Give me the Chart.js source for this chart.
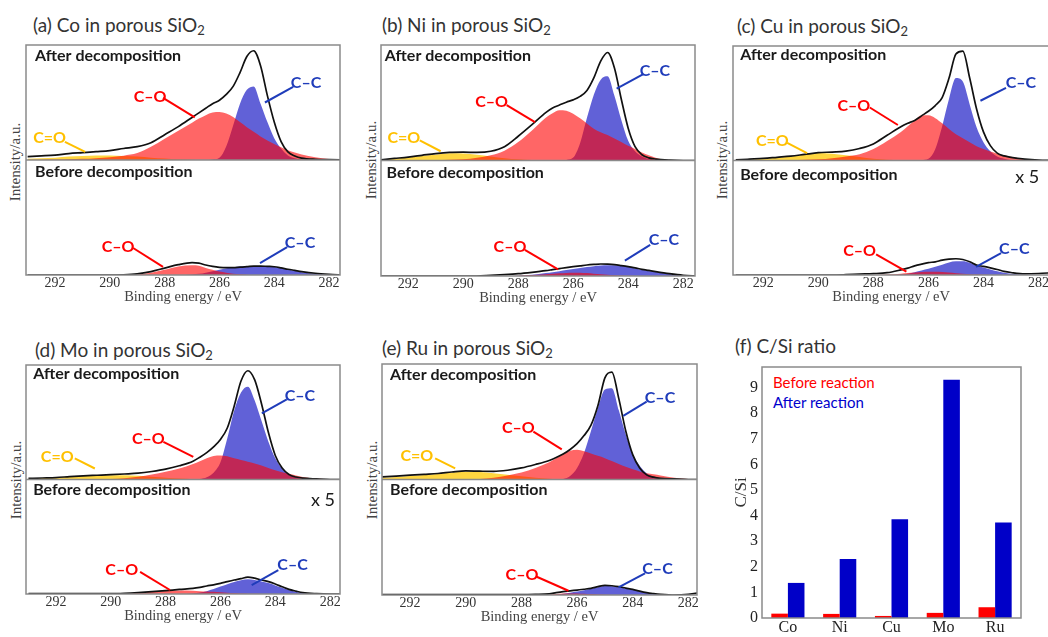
<!DOCTYPE html>
<html>
<head>
<meta charset="utf-8">
<script src="https://cdn.jsdelivr.net/npm/chart.js@4.4.1/dist/chart.umd.min.js"></script>
<style>
  html, body { margin: 0; padding: 0; background: #fff; }
  body { width: 1048px; height: 637px; position: relative; overflow: hidden; font-family: Lato, sans-serif; }
  canvas { position: absolute; }
  .title { position: absolute; font-size: 19px; line-height: 19px; color: #333; white-space: nowrap; }
  .title sub { font-size: 13px; line-height: 0; vertical-align: -3px; }
  .ylab { position: absolute; width: 120px; height: 16px; line-height: 16px; text-align: center;
          font-family: "Liberation Serif", serif; font-size: 15px; color: #444; transform: rotate(-90deg); white-space: nowrap; }
  .leg { position: absolute; font-size: 15px; line-height: 16px; white-space: nowrap; }
</style>
</head>
<body>
<div class="title" style="left:33px;top:15px">(a) Co in porous SiO<sub>2</sub></div>
<div class="title" style="left:382px;top:15px">(b) Ni in porous SiO<sub>2</sub></div>
<div class="title" style="left:737px;top:16px">(c) Cu in porous SiO<sub>2</sub></div>
<div class="title" style="left:35px;top:340px">(d) Mo in porous SiO<sub>2</sub></div>
<div class="title" style="left:382px;top:338px">(e) Ru in porous SiO<sub>2</sub></div>
<div class="title" style="left:735px;top:336px">(f) C/Si ratio</div>
<div class="ylab" style="left:-45px;top:154px">Intensity/a.u.</div>
<div class="ylab" style="left:311px;top:152px">Intensity/a.u.</div>
<div class="ylab" style="left:662px;top:152px">Intensity/a.u.</div>
<div class="ylab" style="left:-44px;top:472px">Intensity/a.u.</div>
<div class="ylab" style="left:312px;top:472px">Intensity/a.u.</div>
<div class="leg" style="left:773px;top:374px;color:#ff0000">Before reaction</div>
<div class="leg" style="left:773px;top:394px;color:#0000cc">After reaction</div>
<script>
// binding energy grid (eV) shared by every spectrum
const energy = [293, 292.5, 292, 291.5, 291, 290.5, 290, 289.5, 289, 288.5, 288, 287.5, 287, 286.75, 286.5, 286.25,
                286, 285.75, 285.5, 285.25, 285, 284.75, 284.5, 284.25, 284, 283.75, 283.5, 283.25, 283, 282.5, 282, 281.5];
const energyTicks = [292, 290, 288, 286, 284, 282];

// (a) Co
const coAfterTotal = [3, 3.6, 4.3, 5.6, 6.4, 7.2, 8.1, 10, 11.6, 15, 22, 29, 37, 41, 45, 49, 52, 57, 64, 76, 90, 95, 82, 56, 33, 16, 7, 3.5, 1.7, 0.6, 0.3, 0];
const coAfterCO = [0, 0.2, 0.4, 0.7, 1, 1.6, 2.5, 3.8, 6, 11.5, 18.5, 25.5, 32.5, 36, 39, 41.2, 41.7, 40.5, 37.5, 33, 28.5, 24.5, 20.5, 17, 14, 11, 8.5, 6.5, 4.8, 2.3, 0.8, 0];
const coAfterCC = [0, 0, 0, 0, 0, 0, 0, 0, 0, 0, 0, 0, 0, 0, 0, 0.5, 2, 12, 30, 49, 61, 64, 49, 33, 19, 10, 4, 1.5, 0.5, 0, 0, 0];
const coAfterCdO = [1, 1.5, 2, 3, 3.5, 4, 4, 3.5, 3, 2, 1.2, 0.6, 0.2, 0, 0, 0, 0, 0, 0, 0, 0, 0, 0, 0, 0, 0, 0, 0, 0, 0, 0, 0];
const coBeforeTotal = [0, 0, 0, 0, 0, 0, 0, 0.2, 1, 3, 6, 9, 10.7, 10.3, 8.7, 7.5, 6.7, 6.4, 6.4, 6.8, 7.2, 7.8, 7.8, 7.5, 7.2, 6.2, 5, 4, 3, 1.5, 0.6, 0];
const coBeforeCO = [0, 0, 0, 0, 0, 0, 0, 0, 0.5, 2, 4.5, 7.5, 8.5, 8, 6, 4.5, 3, 2, 1, 0.6, 0.3, 0.1, 0, 0, 0, 0, 0, 0, 0, 0, 0, 0];
const coBeforeCC = [0, 0, 0, 0, 0, 0, 0, 0, 0, 0, 0, 0, 0.5, 1, 2, 3.2, 4.5, 5.8, 6.7, 7.3, 7.8, 7.9, 7.8, 7.5, 7, 6, 4.8, 3.6, 2.5, 1, 0.3, 0];

// (b) Ni
const niAfterTotal = [0.6, 1.8, 3, 4.5, 6, 7, 7.2, 7, 8, 12, 21, 31, 41.5, 45.5, 48, 50.5, 52.5, 55.5, 60.6, 71.5, 86, 93.5, 80, 53, 28, 12, 5, 2.3, 1.2, 0.3, 0, 0];
const niAfterCO = [0, 0, 0, 0.1, 0.3, 0.6, 1, 2.3, 4.5, 8.5, 16, 26, 37, 41, 43.5, 43, 40.5, 36.5, 32, 27.5, 24.5, 22, 19, 16, 12.7, 10, 7, 4.5, 2.3, 0, 0, 0];
const niAfterCC = [0, 0, 0, 0, 0, 0, 0, 0, 0, 0, 0, 0, 0, 0, 0, 0.5, 2.5, 15, 37, 57, 70, 73, 56, 35, 17, 8, 3.5, 1.5, 0.5, 0, 0, 0];
const niAfterCdO = [0.5, 1.5, 2.5, 4, 5, 6.3, 6, 5, 3.5, 2, 1, 0.4, 0, 0, 0, 0, 0, 0, 0, 0, 0, 0, 0, 0, 0, 0, 0, 0, 0, 0, 0, 0];
const niBeforeTotal = [0, 0, 0, 0, 0, 0, 0, 0, 0.6, 1.2, 2, 3.2, 4.6, 5.5, 6.4, 7.3, 8.1, 8.8, 9.5, 10, 10.4, 10.2, 9.8, 9, 8.1, 7, 5.8, 4.8, 3.8, 2, 0.6, 0];
const niBeforeCO = [0, 0, 0, 0, 0, 0, 0, 0, 0, 0, 0.3, 0.8, 1.5, 1.9, 2.3, 2.7, 2.9, 2.8, 2.5, 2, 1.5, 1.1, 0.7, 0.4, 0.2, 0.1, 0, 0, 0, 0, 0, 0];
const niBeforeCC = [0, 0, 0, 0, 0, 0, 0, 0, 0, 0, 0.3, 1, 2.5, 3.3, 4.2, 5.1, 6, 7, 7.8, 8.5, 9, 9.2, 9.2, 8.7, 8, 6.6, 5.4, 4.4, 3.4, 1.7, 0.4, 0];

// (c) Cu
const cuAfterTotal = [0.6, 1.2, 1.8, 2.8, 3.8, 5.3, 6.8, 7.4, 8.2, 10.5, 14.5, 22, 29.5, 32.5, 35, 39, 43, 48, 55, 72, 93, 95.5, 72, 45, 25, 13, 6.5, 4, 2.8, 1.2, 0.3, 0];
const cuAfterCO = [0, 0, 0, 0.1, 0.3, 0.6, 1, 2, 3.5, 5.5, 10, 17, 25, 30, 35, 39.5, 39.5, 37, 32.5, 27.5, 23, 19.5, 16, 12.5, 10, 7.8, 6, 4.5, 3.2, 1.4, 0.4, 0];
const cuAfterCC = [0, 0, 0, 0, 0, 0, 0, 0, 0, 0, 0, 0, 0, 0, 0, 0.3, 1.5, 10, 30, 54, 72, 69, 49, 29, 16, 8, 3.5, 1.5, 0.5, 0, 0, 0];
const cuAfterCdO = [0.3, 0.8, 1.5, 2.5, 3.5, 5.5, 6.5, 6, 4.5, 3, 1.5, 0.6, 0.2, 0, 0, 0, 0, 0, 0, 0, 0, 0, 0, 0, 0, 0, 0, 0, 0, 0, 0, 0];
const cuBeforeTotal = [0, 0, 0, 0, 0, 0, 0, 0, 0.3, 0.8, 1.2, 2, 4.5, 6, 8, 9.5, 10.8, 11.5, 13, 13.8, 14.2, 13.5, 11.5, 8.6, 7.5, 6.2, 4.8, 3.2, 2.2, 1, 1.3, 2];
const cuBeforeCO = [0, 0, 0, 0, 0, 0, 0, 0, 0, 0, 0, 0.5, 1.2, 1.7, 2.2, 2.6, 2.9, 2.8, 2.6, 2.1, 1.5, 1, 0.6, 0.4, 0.2, 0.1, 0, 0, 0, 0, 0, 0];
const cuBeforeCC = [0, 0, 0, 0, 0, 0, 0, 0, 0, 0, 0, 0, 0.5, 1.2, 2.5, 4, 5.5, 7.2, 9, 11, 12, 12, 10.8, 8.5, 6.5, 4.8, 3.3, 2, 1.2, 0.4, 0, 0];

// (d) Mo
const moAfterTotal = [0.9, 1.3, 1.7, 2.5, 3.2, 3.7, 4.2, 4.8, 5.5, 7, 9, 12, 16, 19.5, 23.5, 28.5, 35, 45, 64, 86, 95, 87, 66, 41, 21, 10, 4.4, 2.2, 1.2, 0.5, 0, 0];
const moAfterCO = [0, 0, 0, 0, 0.1, 0.2, 0.4, 1, 2.3, 4.3, 6.7, 9.5, 13.5, 16, 18.5, 20.5, 21, 20.2, 18.5, 17, 15.5, 14, 12.3, 10, 8, 6.3, 5, 3.5, 2.2, 0.8, 0.2, 0];
const moAfterCC = [0, 0, 0, 0, 0, 0, 0, 0, 0, 0, 0, 0, 0, 0.5, 2, 6, 15, 36, 60, 76, 81, 69, 51, 33, 18.5, 9.5, 4, 1.8, 0.7, 0.1, 0, 0];
const moAfterCdO = [0.8, 1.3, 1.8, 2.5, 3, 3.5, 3.8, 3.7, 3.2, 2.3, 1.5, 0.8, 0.3, 0, 0, 0, 0, 0, 0, 0, 0, 0, 0, 0, 0, 0, 0, 0, 0, 0, 0, 0];
const moBeforeTotal = [0.3, 0.3, 0.3, 0.3, 0.3, 0.3, 0.3, 0.6, 1.2, 2, 2.9, 4, 4.9, 5.8, 7, 8, 9.3, 10.8, 12.2, 13.4, 14.8, 13.8, 12.2, 10.8, 8.7, 6.3, 4, 2.5, 1.2, 0.3, 0, 0];
const moBeforeCO = [0, 0, 0, 0, 0, 0, 0, 0.4, 1, 2, 2.7, 3, 2.8, 2.5, 2.2, 1.9, 1.5, 1.1, 0.8, 0.5, 0.3, 0.15, 0, 0, 0, 0, 0, 0, 0, 0, 0, 0];
const moBeforeCC = [0, 0, 0, 0, 0, 0, 0, 0, 0, 0, 0, 0, 0.5, 1.3, 2.5, 4.3, 6.5, 8.5, 10.5, 12, 12.8, 12.3, 11, 9.5, 7.5, 5.5, 3.5, 2, 1, 0.2, 0, 0];

// (e) Ru
const ruAfterTotal = [2.3, 3, 3.8, 4.5, 5.2, 6.5, 7.5, 7.2, 7, 8, 10, 13, 16.5, 19, 22, 26, 31, 38, 47, 64, 88, 93, 70, 42, 21.5, 10, 4, 2, 1, 0.5, 0, 0];
const ruAfterCO = [0, 0, 0, 0, 0, 0, 0, 0.5, 1.5, 3.5, 6, 10, 15, 18.5, 22, 25, 25.8, 24.5, 22.5, 20.5, 18.5, 16, 13.5, 11, 8.8, 7, 5.5, 4.5, 3.5, 1.6, 0.5, 0];
const ruAfterCC = [0, 0, 0, 0, 0, 0, 0, 0, 0, 0, 0, 0, 0, 0, 0.5, 3, 10, 23, 42, 62, 78, 79, 60, 39, 22, 12, 5.5, 2.5, 1, 0.2, 0, 0];
const ruAfterCdO = [1.5, 2.2, 3, 4, 4.8, 6, 6.7, 6.5, 5.5, 4.2, 2.8, 1.5, 0.7, 0.4, 0.2, 0, 0, 0, 0, 0, 0, 0, 0, 0, 0, 0, 0, 0, 0, 0, 0, 0];
const ruBeforeTotal = [0.3, 0.3, 0.3, 0.3, 0.3, 0.3, 0.3, 0.3, 0.3, 0.3, 0.3, 0.5, 1, 2, 2.9, 3.6, 4.3, 5, 5.8, 7.2, 8.4, 8, 7.2, 6, 4.9, 3.3, 2, 1.2, 0.6, 0, 0.6, 2.3];
const ruBeforeCO = [0, 0, 0, 0, 0, 0, 0, 0, 0, 0, 0, 0, 0.3, 0.8, 1.3, 1.4, 1.4, 1.1, 0.8, 0.5, 0.3, 0.1, 0, 0, 0, 0, 0, 0, 0, 0, 0, 0];
const ruBeforeCC = [0, 0, 0, 0, 0, 0, 0, 0, 0, 0, 0, 0, 0, 0.3, 1, 2, 3, 4.2, 5.5, 6.8, 7.8, 7.6, 6.8, 5.7, 4.5, 3, 1.8, 1, 0.5, 0, 0, 0];

// (f) C/Si ratio
const metals = ['Co', 'Ni', 'Cu', 'Mo', 'Ru'];
const ratioBefore = [0.17, 0.16, 0.08, 0.2, 0.42];
const ratioAfter = [1.37, 2.3, 3.86, 9.3, 3.73];
const ratioTicks = [0, 1, 2, 3, 4, 5, 6, 7, 8, 9];

const RED = '#ff0000', BLUE = '#1f3cba', GOLD = '#ffc000';
const fills = { co: 'rgba(255, 0, 0, 0.6)', cc: 'rgba(0, 0, 190, 0.62)', cdo: 'rgba(255, 200, 0, 0.75)' };

Chart.defaults.font.family = 'Lato';
Chart.defaults.animation = false;

const head = (text, axis, x, y) => ({ text, axis, at: [x, y], font: 'bold 16px Lato', color: '#1a1a1a', align: 'left' });
const tag = (text, color, axis, x, y, line) => ({ text, axis, at: [x, y], font: 'bold 16px Lato', color, align: 'center', line });
const times5 = (axis, x, y) => ({ text: 'x 5', axis, at: [x, y], font: '18px Lato', color: '#1a1a1a', align: 'center' });

const panels = [
  { box: [26, 45, 340, 275], range: [281.6, 293.06],
    after: [coAfterTotal, coAfterCO, coAfterCC, coAfterCdO], before: [coBeforeTotal, coBeforeCO, coBeforeCC],
    notes: [
      head('After decomposition', 'yA', 292.73, 91), head('Before decomposition', 'yB', 292.73, 89.6),
      tag('C=O', GOLD, 'yA', 292.2, 19, [291.64, 15.7, 290.9, 7]),
      tag('C\u2013O', RED, 'yA', 288.53, 55, [288.06, 54, 286.9, 37]),
      tag('C\u2013C', BLUE, 'yA', 282.84, 67, [283.31, 63.5, 284.34, 50]),
      tag('C\u2013O', RED, 'yB', 289.7, 24.3, [289.15, 23.5, 288.06, 7]),
      tag('C\u2013C', BLUE, 'yB', 283.06, 27.8, [283.53, 24.3, 284.52, 10.4])
    ] },
  { box: [381, 45, 695, 276], range: [281.57, 292.99],
    after: [niAfterTotal, niAfterCO, niAfterCC, niAfterCdO], before: [niBeforeTotal, niBeforeCO, niBeforeCC],
    notes: [
      head('After decomposition', 'yA', 292.85, 91), head('Before decomposition', 'yB', 292.79, 89.3),
      tag('C=O', GOLD, 'yA', 292.16, 20, [291.58, 17.4, 290.82, 8]),
      tag('C\u2013O', RED, 'yA', 288.97, 50.7, [288.42, 48, 287.39, 33.3]),
      tag('C\u2013C', BLUE, 'yA', 283.03, 78, [283.45, 74.8, 284.42, 62.3]),
      tag('C\u2013O', RED, 'yB', 288.3, 25.5, [287.76, 22.6, 286.55, 5.8]),
      tag('C\u2013C', BLUE, 'yB', 282.7, 31.3, [283.2, 27, 284.12, 13.3])
    ] },
  { box: [733, 46, 1050, 275], range: [281.61, 293.1],
    after: [cuAfterTotal, cuAfterCO, cuAfterCC, cuAfterCdO], before: [cuBeforeTotal, cuBeforeCO, cuBeforeCC],
    notes: [
      head('After decomposition', 'yA', 292.84, 92), head('Before decomposition', 'yB', 292.84, 87.7),
      tag('C=O', GOLD, 'yA', 291.67, 16.8, [291.13, 15.3, 290.41, 6.5]),
      tag('C\u2013O', RED, 'yA', 288.71, 47.8, [288.13, 46.3, 287.11, 31]),
      tag('C\u2013C', BLUE, 'yA', 282.64, 67.5, [283.18, 63.4, 284.11, 52.2]),
      times5('yB', 282.41, 85.3),
      tag('C\u2013O', RED, 'yB', 288.5, 21, [287.9, 18, 286.8, 2.9]),
      tag('C\u2013C', BLUE, 'yB', 282.88, 23, [283.36, 19.2, 284.27, 7.2])
    ] },
  { box: [26, 365, 340, 594], range: [281.64, 293.09],
    after: [moAfterTotal, moAfterCO, moAfterCC, moAfterCdO], before: [moBeforeTotal, moBeforeCO, moBeforeCC],
    notes: [
      head('After decomposition', 'yA', 292.83, 92.6), head('Before decomposition', 'yB', 292.83, 90.7),
      tag('C=O', GOLD, 'yA', 291.95, 19.8, [291.31, 18.4, 290.58, 9.6]),
      tag('C\u2013O', RED, 'yA', 288.63, 35.9, [288.08, 32.9, 286.99, 19.8]),
      tag('C\u2013C', BLUE, 'yA', 283.1, 72.9, [283.58, 70, 284.49, 57.7]),
      times5('yB', 282.26, 82),
      tag('C\u2013O', RED, 'yB', 289.6, 20.9, [288.93, 19.4, 287.84, 3.5]),
      tag('C\u2013C', BLUE, 'yB', 283.37, 25.3, [283.89, 20.9, 284.86, 7.8])
    ] },
  { box: [382, 364, 697, 595], range: [281.69, 293.01],
    after: [ruAfterTotal, ruAfterCO, ruAfterCC, ruAfterCdO], before: [ruBeforeTotal, ruBeforeCO, ruBeforeCC],
    notes: [
      head('After decomposition', 'yA', 292.72, 90.7), head('Before decomposition', 'yB', 292.72, 90.7),
      tag('C=O', GOLD, 'yA', 291.76, 20.3, [291.1, 18.3, 290.38, 9.6]),
      tag('C\u2013O', RED, 'yA', 288.11, 44.3, [287.57, 41.4, 286.55, 26.1]),
      tag('C\u2013C', BLUE, 'yA', 283.02, 70.4, [283.5, 67.5, 284.34, 55]),
      tag('C\u2013O', RED, 'yB', 287.98, 17.3, [287.45, 15.8, 286.31, 3.7]),
      tag('C\u2013C', BLUE, 'yB', 283.11, 23, [283.56, 18.7, 284.51, 6.6])
    ] }
];

const frame = {
  id: 'frame',
  afterDatasetsDraw(chart) {
    const { ctx, chartArea: a } = chart;
    ctx.save();
    ctx.strokeStyle = '#8a8a8a';
    ctx.lineWidth = 1.5;
    ctx.strokeRect(a.left, a.top, a.right - a.left, a.bottom - a.top);
    if (chart.scales.yA) {
      ctx.beginPath();
      ctx.moveTo(a.left, chart.scales.yA.bottom);
      ctx.lineTo(a.right, chart.scales.yA.bottom);
      ctx.stroke();
    }
    ctx.restore();
  }
};

function notesPlugin(notes) {
  return {
    id: 'notes',
    afterDraw(chart) {
      const ctx = chart.ctx, xs = chart.scales.x;
      ctx.save();
      notes.forEach(n => {
        const ys = chart.scales[n.axis];
        if (n.line) {
          ctx.strokeStyle = n.color;
          ctx.lineWidth = 2;
          ctx.beginPath();
          ctx.moveTo(xs.getPixelForValue(n.line[0]), ys.getPixelForValue(n.line[1]));
          ctx.lineTo(xs.getPixelForValue(n.line[2]), ys.getPixelForValue(n.line[3]));
          ctx.stroke();
        }
        ctx.font = n.font;
        ctx.fillStyle = n.color;
        ctx.textAlign = n.align;
        ctx.textBaseline = 'middle';
        ctx.fillText(n.text, xs.getPixelForValue(n.at[0]), ys.getPixelForValue(n.at[1]));
      });
      ctx.restore();
    }
  };
}

function curve(values, axis, color, isFill, order) {
  return {
    data: energy.map((e, i) => ({ x: e, y: values[i] })),
    yAxisID: axis,
    borderColor: isFill ? 'rgba(0,0,0,0)' : color,
    backgroundColor: color,
    borderWidth: isFill ? 0 : 1.7,
    fill: isFill ? 'origin' : false,
    pointRadius: 0,
    cubicInterpolationMode: 'monotone',
    order: order
  };
}

function addCanvas(left, top, width, height) {
  const c = document.createElement('canvas');
  c.width = width; c.height = height;
  c.style.left = left + 'px'; c.style.top = top + 'px';
  c.style.width = width + 'px'; c.style.height = height + 'px';
  document.body.appendChild(c);
  return c;
}

const serif = (size) => ({ family: 'Liberation Serif', size: size, lineHeight: 1 });

panels.forEach(p => {
  const [l, t, r, b] = p.box;
  const padL = 26, padT = 5, padR = r > 1040 ? 0 : 10, padB = 5, axisH = 29;
  const canvas = addCanvas(l - padL, t - padT, r - l + padL + padR, b - t + padT + axisH + padB);
  const [aTot, aCO, aCC, aCdO] = p.after;
  const [bTot, bCO, bCC] = p.before;
  new Chart(canvas, {
    type: 'line',
    data: {
      datasets: [
        curve(aTot, 'yA', '#111', false, 0),
        curve(aCO, 'yA', fills.co, true, 1),
        curve(aCdO, 'yA', fills.cdo, true, 2),
        curve(aCC, 'yA', fills.cc, true, 3),
        curve(bTot, 'yB', '#111', false, 0),
        curve(bCO, 'yB', fills.co, true, 1),
        curve(bCC, 'yB', fills.cc, true, 3)
      ]
    },
    options: {
      responsive: false,
      devicePixelRatio: 1,
      layout: { padding: { left: padL, top: padT, right: padR, bottom: padB }, autoPadding: false },
      plugins: { legend: { display: false }, tooltip: { enabled: false } },
      scales: {
        x: {
          type: 'linear', reverse: true, min: p.range[0], max: p.range[1],
          grid: { display: false, drawTicks: false }, border: { display: false },
          afterBuildTicks: s => { s.ticks = energyTicks.map(v => ({ value: v })); },
          afterFit: s => { s.height = axisH; },
          ticks: { font: serif(14), color: '#333', padding: 1, maxRotation: 0, autoSkip: false },
          title: { display: true, text: 'Binding energy / eV', font: serif(14.5), color: '#444', padding: 0 }
        },
        yB: { type: 'linear', position: 'left', stack: 'xps', stackWeight: 1, min: 0, max: 100, display: false },
        yA: { type: 'linear', position: 'left', stack: 'xps', stackWeight: 1, min: 0, max: 100, display: false }
      }
    },
    plugins: [frame, notesPlugin(p.notes)]
  });
});

// (f) bar chart
const barCanvas = addCanvas(700, 340, 348, 297);
new Chart(barCanvas, {
  type: 'bar',
  data: {
    labels: metals,
    datasets: [
      { label: 'Before reaction', data: ratioBefore, backgroundColor: '#ff0000', categoryPercentage: 0.64, barPercentage: 1 },
      { label: 'After reaction', data: ratioAfter, backgroundColor: '#0000c8', categoryPercentage: 0.64, barPercentage: 1 }
    ]
  },
  options: {
    responsive: false,
    devicePixelRatio: 1,
    layout: { padding: { left: 0, top: 27, right: 27, bottom: 0 }, autoPadding: false },
    plugins: { legend: { display: false }, tooltip: { enabled: false } },
    scales: {
      x: {
        grid: { display: false, drawTicks: false }, border: { display: false },
        ticks: { font: serif(16), color: '#222', padding: 2 },
        afterFit: s => { s.height = 19; }
      },
      y: {
        min: 0, max: 9.8,
        grid: { display: false, drawTicks: false }, border: { display: false },
        afterBuildTicks: s => { s.ticks = ratioTicks.map(v => ({ value: v })); },
        ticks: { font: serif(16), color: '#222', padding: 4 },
        title: { display: true, text: 'C/Si', font: serif(17), color: '#333', padding: { top: 33.5, bottom: 0 } },
        afterFit: s => { s.width = 62; }
      }
    }
  },
  plugins: [frame]
});
</script>
</body>
</html>
